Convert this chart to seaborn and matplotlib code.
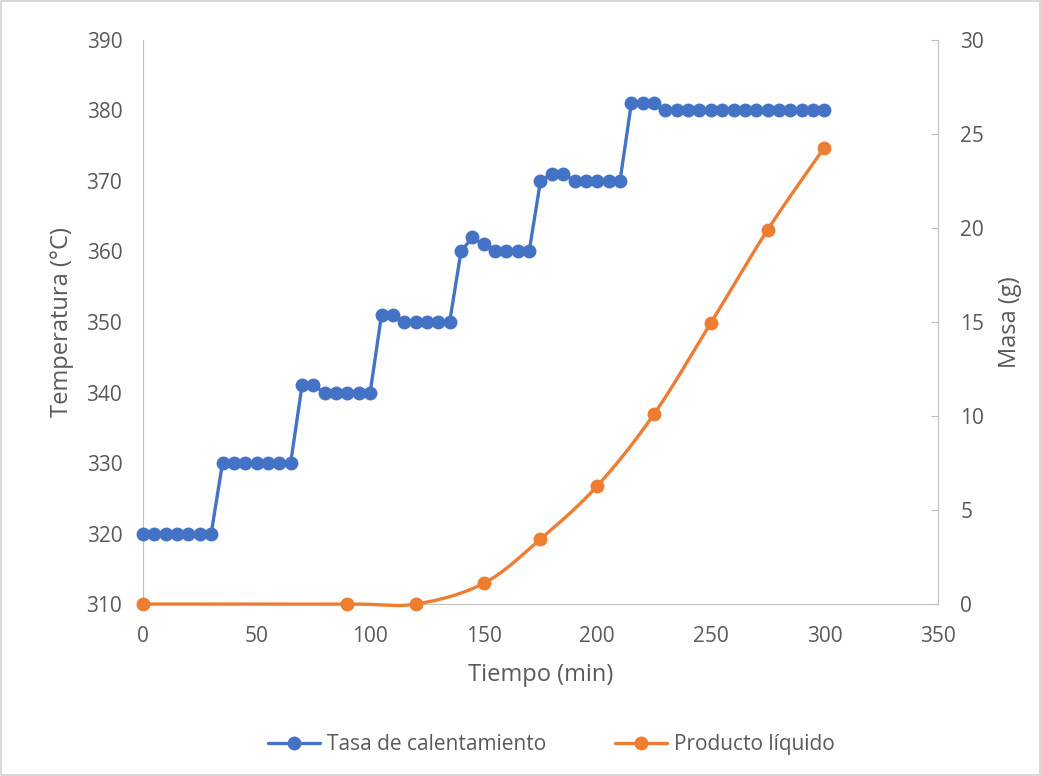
import numpy as np
import pandas as pd
import matplotlib
matplotlib.use("Agg")
import matplotlib.pyplot as plt
from matplotlib.lines import Line2D
import seaborn as sns

# Heating rate data (temperature every 5 min)
tiempo_temp = list(range(0, 305, 5))
temperatura = ([320] * 7 + [330] * 7 + [341, 341] + [340] * 5 + [351, 351] + [350] * 5
               + [360, 362, 361, 360, 360, 360, 360] + [370, 371, 371, 370, 370, 370, 370, 370]
               + [381, 381, 381] + [380] * 15)

# Liquid product mass
tiempo_masa = [0, 90, 120, 150, 175, 200, 225, 250, 275, 300]
masa = [0, 0, 0, 1.1, 3.46, 6.28, 10.1, 14.95, 19.9, 24.28]

azul = "#4472C4"
naranja = "#ED7D31"
gris = "#595959"


def catmull_rom(x, y, n=30):
    # smooth line through the points, like Excel's "smoothed line"
    pts = np.column_stack([x, y]).astype(float)
    pts = np.vstack([pts[0], pts, pts[-1]])
    out = []
    for i in range(1, len(pts) - 2):
        p0, p1, p2, p3 = pts[i - 1], pts[i], pts[i + 1], pts[i + 2]
        t = np.linspace(0, 1, n)[:, None]
        seg = 0.5 * ((2 * p1) + (-p0 + p2) * t + (2 * p0 - 5 * p1 + 4 * p2 - p3) * t ** 2
                     + (-p0 + 3 * p1 - 3 * p2 + p3) * t ** 3)
        out.append(seg)
    out = np.vstack(out)
    return out[:, 0], out[:, 1]


sns.set_style("white")
plt.rcParams["font.family"] = ["Open Sans", "DejaVu Sans"]

df_temp = pd.DataFrame({"Tiempo": tiempo_temp, "Temperatura": temperatura})
df_masa = pd.DataFrame({"Tiempo": tiempo_masa, "Masa": masa})

fig = plt.figure(figsize=(10.41, 7.76), dpi=100)
fig.patch.set_edgecolor("#D9D9D9")
fig.patch.set_linewidth(1.5)
ax = fig.add_axes([0.1374, 0.2216, 0.7636, 0.7269])
ax2 = ax.twinx()

sns.lineplot(data=df_temp, x="Tiempo", y="Temperatura", ax=ax, color=azul, lw=2.4,
             marker="o", markersize=10, markeredgewidth=0, zorder=3, clip_on=False)

xs, ys = catmull_rom(tiempo_masa, masa)
ax2.plot(xs, ys, color=naranja, lw=2.4, solid_capstyle="round", clip_on=False)
sns.scatterplot(data=df_masa, x="Tiempo", y="Masa", ax=ax2, color=naranja, s=100,
                linewidth=0, zorder=3, clip_on=False)

ax.set_xlim(0, 350)
ax.set_ylim(310, 390)
ax2.set_ylim(0, 30)
ax.set_xticks(range(0, 351, 50))
ax.set_yticks(range(310, 391, 10))
ax2.set_yticks(range(0, 31, 5))

for a in (ax, ax2):
    for s in a.spines.values():
        s.set_visible(False)
    a.tick_params(labelsize=15, colors=gris)
ax.spines["left"].set_visible(True)
ax.spines["left"].set_color("#BFBFBF")
ax.spines["bottom"].set_visible(True)
ax.spines["bottom"].set_color("#BFBFBF")
ax2.spines["right"].set_visible(True)
ax2.spines["right"].set_color("#BFBFBF")
ax.tick_params(axis="y", length=0, pad=15)
ax.tick_params(axis="x", length=0, pad=16)
ax2.tick_params(axis="y", length=5, direction="in", color="#BFBFBF", pad=16,
                labelcolor=gris)

ax.set_xlabel("Tiempo (min)", fontsize=17, color=gris, labelpad=11)
ax.set_ylabel("Temperatura (°C)", fontsize=17, color=gris, labelpad=9)
ax2.set_ylabel("Masa (g)", fontsize=17, color=gris, labelpad=10)
ax2.grid(False)
ax.grid(False)

handles = [
    Line2D([], [], color=azul, lw=2.4, marker="o", markersize=10, markeredgewidth=0),
    Line2D([], [], color=naranja, lw=2.4, marker="o", markersize=10, markeredgewidth=0),
]
fig.legend(handles, ["Tasa de calentamiento", "Producto líquido"], loc="center",
           bbox_to_anchor=(0.53, 0.04), ncol=2, frameon=False, fontsize=15,
           labelcolor=gris, handlelength=2.5, columnspacing=3.3, handletextpad=0.33)

fig.savefig("out.png", dpi=100)
